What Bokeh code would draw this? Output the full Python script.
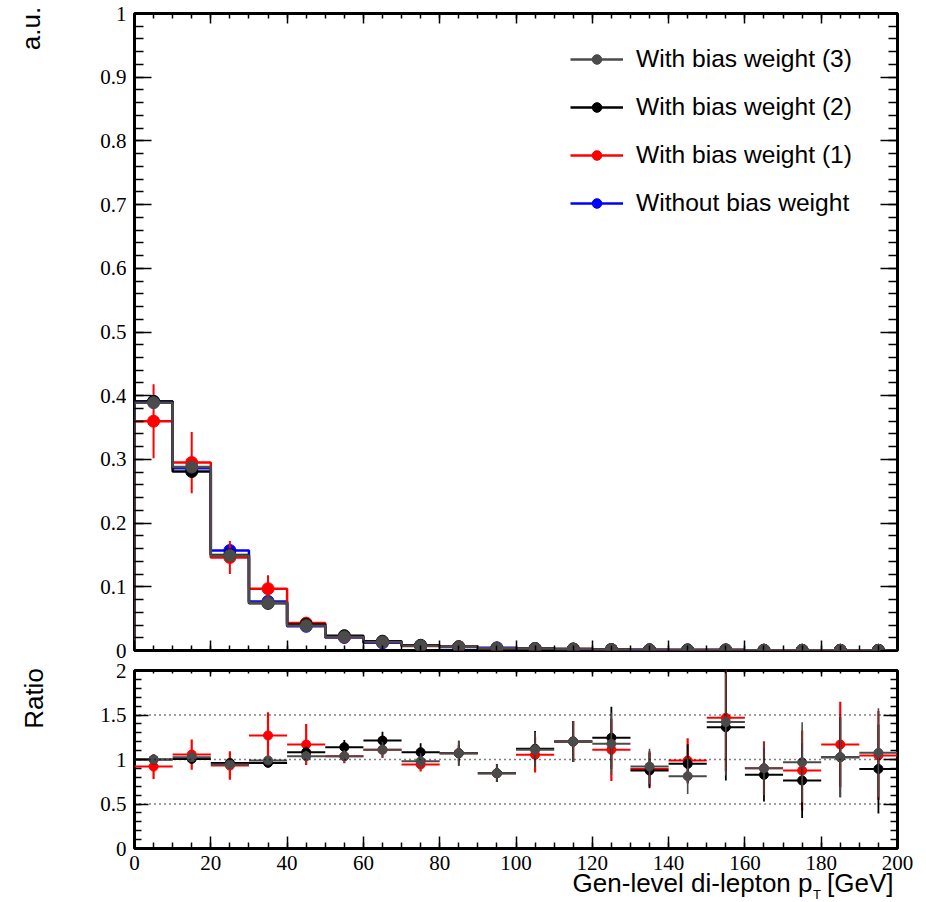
import numpy as np
from bokeh.plotting import figure
from bokeh.models import (Range1d, FixedTicker, LinearAxis, Legend, LegendItem,
                          Label, LabelSet, Span, ColumnDataSource)
from bokeh.layouts import column, row
from bokeh.embed import file_html
from bokeh.resources import INLINE

# ---------------- data ----------------
bin_edges = [0, 10, 20, 30, 40, 50, 60, 70, 80, 90, 100, 110, 120, 130, 140,
             150, 160, 170, 180, 190, 200]

series_names = ["With bias weight (3)", "With bias weight (2)",
                "With bias weight (1)", "Without bias weight"]

# normalised distributions (a.u.)
blue_y = [0.391, 0.286, 0.157, 0.077, 0.038, 0.0205, 0.0120, 0.0076, 0.0054, 0.0042,
          0.0027, 0.0019, 0.0013, 0.0010, 0.0008, 0.0006, 0.0005, 0.0004, 0.0003, 0.00025]
red_y = [0.360, 0.295, 0.146, 0.097, 0.043, 0.0212, 0.0133, 0.0072, 0.0058, 0.0036,
         0.0028, 0.0023, 0.0014, 0.0009, 0.0008, 0.0009, 0.00045, 0.00035, 0.00035, 0.00026]
black_y = [0.391, 0.281, 0.150, 0.074, 0.041, 0.0233, 0.0146, 0.0082, 0.0058, 0.0036,
           0.0030, 0.0023, 0.0016, 0.0009, 0.00076, 0.00082, 0.00041, 0.0003, 0.0003, 0.00022]
gray_y = [0.389, 0.288, 0.149, 0.075, 0.039, 0.0213, 0.0133, 0.0074, 0.0058, 0.0036,
          0.0030, 0.0023, 0.0015, 0.0009, 0.00065, 0.00085, 0.00045, 0.0004, 0.0003, 0.00027]

red_err = [0.058, 0.048, 0.026, 0.021, 0.009, 0.004, 0.003, 0.002, 0.0015, 0.001,
           0.0008, 0.0007, 0.0006, 0.0005, 0.0004, 0.0004, 0.0003, 0.0003, 0.0003, 0.0002]
small_err = [0.004, 0.0035, 0.0025, 0.0018, 0.0013, 0.001, 0.0008, 0.0006, 0.0005, 0.0004,
             0.0003, 0.0003, 0.0002, 0.0002, 0.0002, 0.0002, 0.0001, 0.0001, 0.0001, 0.0001]

# ratios to "Without bias weight"
red_r = [0.92, 1.056, 0.932, 1.27, 1.168, 1.037, 1.11, 0.944, 1.071, 0.846,
         1.053, 1.202, 1.109, 0.894, 0.988, 1.468, 0.902, 0.876, 1.168, 1.045]
black_r = [1.0, 1.007, 0.962, 0.962, 1.082, 1.139, 1.213, 1.082, 1.071, 0.846,
           1.12, 1.202, 1.244, 0.876, 0.951, 1.363, 0.828, 0.764, 1.026, 0.894]
gray_r = [1.0, 1.026, 0.944, 0.99, 1.037, 1.037, 1.11, 0.98, 1.071, 0.846,
          1.11, 1.202, 1.176, 0.921, 0.813, 1.42, 0.902, 0.969, 1.026, 1.075]

red_re = [0.14, 0.17, 0.16, 0.26, 0.23, 0.08, 0.09, 0.08, 0.09, 0.10,
          0.20, 0.23, 0.35, 0.20, 0.25, 0.60, 0.30, 0.45, 0.48, 0.50]
black_re = [0.02, 0.03, 0.04, 0.04, 0.06, 0.08, 0.10, 0.10, 0.14, 0.10,
            0.20, 0.23, 0.35, 0.20, 0.22, 0.60, 0.30, 0.42, 0.45, 0.50]
gray_re = [0.02, 0.03, 0.04, 0.04, 0.06, 0.07, 0.09, 0.09, 0.14, 0.10,
           0.20, 0.23, 0.35, 0.20, 0.20, 0.60, 0.30, 0.45, 0.45, 0.50]

x_ticks = [0, 20, 40, 60, 80, 100, 120, 140, 160, 180, 200]
x_tick_labels = ["0", "20", "40", "60", "80", "100", "120", "140", "160", "180", "200"]
y_ticks_top = [0, 0.1, 0.2, 0.3, 0.4, 0.5, 0.6, 0.7, 0.8, 0.9, 1]
y_labels_top = ["0", "0.1", "0.2", "0.3", "0.4", "0.5", "0.6", "0.7", "0.8", "0.9", "1"]
y_ticks_ratio = [0, 0.5, 1, 1.5, 2]
y_labels_ratio = ["0", "0.5", "1", "1.5", "2"]
ratio_ref_lines = [0.5, 1, 1.5]

y_title_top = "a.u."
y_title_ratio = "Ratio"
x_title_main = "Gen-level di-lepton p"
x_title_sub = "T"
x_title_unit = "[GeV]"

# ---------------- layout constants (page pixels) ----------------
PAGE_W, PAGE_H = 918, 902
LEFT_W = 126                 # left canvas holding y tick labels and y titles
FRAME_L, FRAME_W = 134, 763  # frame left edge / width (both panels)
TOP_T, TOP_B = 13, 650       # top frame top / bottom
RAT_T, RAT_B = 670, 848      # ratio frame top / bottom
TOP_H = 660                  # top canvas height
RAT_H = 190                  # ratio canvas height
FOOT_H = PAGE_H - TOP_H - RAT_H
RIGHT_W = PAGE_W - LEFT_W

C_BLUE, C_RED, C_BLACK, C_GRAY = "#0000ff", "#ff0000", "#000000", "#4b4b4b"
FONT = "Liberation Sans"

lo = np.array(bin_edges[:-1], dtype=float)
hi = np.array(bin_edges[1:], dtype=float)
cx = (lo + hi) / 2.0

x_minor = list(np.arange(0, 201, 5))
y_minor_top = list(np.round(np.arange(0, 1.001, 0.02), 3))
y_minor_ratio = list(np.round(np.arange(0, 2.001, 0.1), 2))


def style_axis(ax, major, minor):
    ax.major_tick_in = major
    ax.major_tick_out = 0
    ax.minor_tick_in = minor
    ax.minor_tick_out = 0
    ax.major_tick_line_width = 1.5
    ax.minor_tick_line_width = 1.5
    ax.major_tick_line_color = "black"
    ax.minor_tick_line_color = "black"
    ax.axis_line_color = None
    ax.major_label_text_font = FONT
    ax.major_label_text_font_size = "21px"
    ax.major_label_standoff = 0
    ax.major_label_overrides = {t: "" for t in ax.ticker.ticks}


def step_xy(vals):
    xs = [bin_edges[0]] + list(bin_edges)
    ys = [0.0] + list(vals) + [vals[-1]]
    return xs, ys


def blank_fig(w, h, xr, yr):
    f = figure(width=w, height=h, x_range=xr, y_range=yr, output_backend="svg",
               toolbar_location=None, x_axis_type=None, y_axis_type=None,
               min_border=0)
    f.outline_line_color = None
    f.xgrid.visible = False
    f.ygrid.visible = False
    f.background_fill_color = "white"
    f.border_fill_color = "white"
    return f


def centered_label(x, y, text, size, angle=0.0, align="center", y_range_name="default"):
    return Label(x=x, y=y, text=text, angle=angle, text_align=align,
                 text_baseline="middle", text_font=FONT, y_range_name=y_range_name,
                 text_font_size=f"{size}px", text_color="black")


def panel(height, y_range, border_top, border_bottom, x_range):
    f = figure(width=RIGHT_W, height=height, x_range=x_range, y_range=y_range,
               output_backend="svg", toolbar_location=None,
               min_border_left=FRAME_L - LEFT_W,
               min_border_right=PAGE_W - FRAME_L - FRAME_W,
               min_border_top=border_top, min_border_bottom=border_bottom)
    f.xgrid.visible = False
    f.ygrid.visible = False
    f.outline_line_color = "black"
    f.outline_line_width = 3
    f.background_fill_color = "white"
    f.border_fill_color = "white"
    return f


def add_frame_ticks(f, yt, ymt, ymaj, ymin, xmaj, xmin, xmaj_top, xmin_top):
    f.xaxis[0].ticker = FixedTicker(ticks=x_ticks, minor_ticks=x_minor)
    f.yaxis[0].ticker = FixedTicker(ticks=yt, minor_ticks=ymt)
    style_axis(f.xaxis[0], xmaj, xmin)
    style_axis(f.yaxis[0], ymaj, ymin)
    ar = LinearAxis(ticker=FixedTicker(ticks=yt, minor_ticks=ymt))
    style_axis(ar, ymaj, ymin)
    f.add_layout(ar, "right")
    at = LinearAxis(ticker=FixedTicker(ticks=x_ticks, minor_ticks=x_minor))
    style_axis(at, xmaj_top, xmin_top)
    f.add_layout(at, "above")


# ---------------- top panel ----------------
top = panel(TOP_H, Range1d(0, 1), TOP_T, TOP_H - TOP_B, Range1d(0, 200))
add_frame_ticks(top, y_ticks_top, y_minor_top, 17, 9, 10, 5, 10, 5)

top_series = [(blue_y, small_err, C_BLUE), (red_y, red_err, C_RED),
              (black_y, small_err, C_BLACK), (gray_y, small_err, C_GRAY)]
for vals, errs, col in top_series:
    xs, ys = step_xy(vals)
    top.step(xs, ys, mode="after", line_color=col, line_width=2.5)
    v = np.array(vals)
    e = np.array(errs)
    top.segment(x0=cx, y0=v - e, x1=cx, y1=v + e, line_color=col, line_width=2)
    top.scatter(cx, v, size=12, fill_color=col, line_color=col)

# legend (legend-only renderers holding a single NaN point)
items = []
for name, col in zip(series_names, [C_GRAY, C_BLACK, C_RED, C_BLUE]):
    lr = top.line(x=[np.nan], y=[np.nan], line_color=col, line_width=2.5)
    sr = top.scatter(x=[np.nan], y=[np.nan], size=9, fill_color=col, line_color=col)
    items.append(LegendItem(label=name, renderers=[lr, sr]))
legend = Legend(items=items, location=(436, 433), glyph_width=53, glyph_height=24,
                label_height=24, label_standoff=13, spacing=20, padding=0, margin=0,
                border_line_color=None, background_fill_alpha=0,
                label_text_font=FONT, label_text_font_size="24.6px",
                label_text_baseline="middle", label_text_color="black")
top.add_layout(legend)

# ---------------- ratio panel ----------------
rat = panel(RAT_H, Range1d(0, 2), RAT_T - TOP_H, TOP_H + RAT_H - RAT_B, top.x_range)
add_frame_ticks(rat, y_ticks_ratio, y_minor_ratio, 14, 7, 12, 6, 6, 3)

for loc in ratio_ref_lines:
    rat.add_layout(Span(location=loc, dimension="width", line_color="black",
                        line_width=1.5, line_dash="1 4"))

ratio_series = [(red_r, red_re, C_RED, 2.2), (black_r, black_re, C_BLACK, 1.8),
                (gray_r, gray_re, C_GRAY, 1.6)]
for vals, errs, col, lw in ratio_series:
    v = np.array(vals)
    e = np.array(errs)
    rat.segment(x0=lo, y0=v, x1=hi, y1=v, line_color=col, line_width=2)
    rat.segment(x0=cx, y0=v - e, x1=cx, y1=v + e, line_color=col, line_width=lw)
    rat.scatter(cx, v, size=9, fill_color=col, line_color=col)

# ---------------- left canvas: y tick labels and y titles ----------------
top_scale = (TOP_B - TOP_T) / 1.0
rat_scale = (RAT_B - RAT_T) / 2.0
left = blank_fig(LEFT_W, PAGE_H, Range1d(0, LEFT_W),
                 Range1d((TOP_B - PAGE_H) / top_scale, TOP_B / top_scale))
left.extra_y_ranges = {
    "ratio": Range1d((RAT_B - PAGE_H) / rat_scale, RAT_B / rat_scale),
    "page": Range1d(PAGE_H, 0),
}
lab_x = FRAME_L - 8
left.add_layout(LabelSet(
    x="x", y="y", text="text",
    source=ColumnDataSource(dict(x=[lab_x] * len(y_ticks_top), y=y_ticks_top,
                                 text=y_labels_top)),
    text_align="right", text_baseline="middle", text_font=FONT,
    text_font_size="21px", text_color="black"))
left.add_layout(LabelSet(
    x="x", y="y", text="text", y_range_name="ratio",
    source=ColumnDataSource(dict(x=[lab_x] * len(y_ticks_ratio), y=y_ticks_ratio,
                                 text=y_labels_ratio)),
    text_align="right", text_baseline="middle", text_font=FONT,
    text_font_size="21px", text_color="black"))
left.add_layout(centered_label(30, 28, y_title_top, 26, angle=np.pi / 2,
                               y_range_name="page"))
left.add_layout(centered_label(33, 698, y_title_ratio, 26, angle=np.pi / 2,
                               y_range_name="page"))

# ---------------- foot: x tick labels and x title ----------------
x_scale = FRAME_W / 200.0
foot = blank_fig(RIGHT_W, FOOT_H,
                 Range1d(-(FRAME_L - LEFT_W) / x_scale, (PAGE_W - FRAME_L) / x_scale),
                 Range1d(PAGE_H, TOP_H + RAT_H))
foot.add_layout(LabelSet(
    x="x", y="y", text="text",
    source=ColumnDataSource(dict(x=x_ticks, y=[862] * len(x_ticks),
                                 text=x_tick_labels)),
    text_align="center", text_baseline="middle", text_font=FONT,
    text_font_size="21px", text_color="black"))
title_x_end = (812 - FRAME_L) / x_scale
unit_x_end = (893 - FRAME_L) / x_scale
foot.add_layout(centered_label(title_x_end, 882, x_title_main, 26, align="right"))
foot.add_layout(centered_label(title_x_end + 0.1, 893.5, x_title_sub, 13, align="left"))
foot.add_layout(centered_label(unit_x_end, 882, x_title_unit, 26, align="right"))

panels = column(top, rat, spacing=0)
layout = row(left, column(panels, foot, spacing=0), spacing=0)
open("out.html", "w").write(file_html(layout, INLINE))
